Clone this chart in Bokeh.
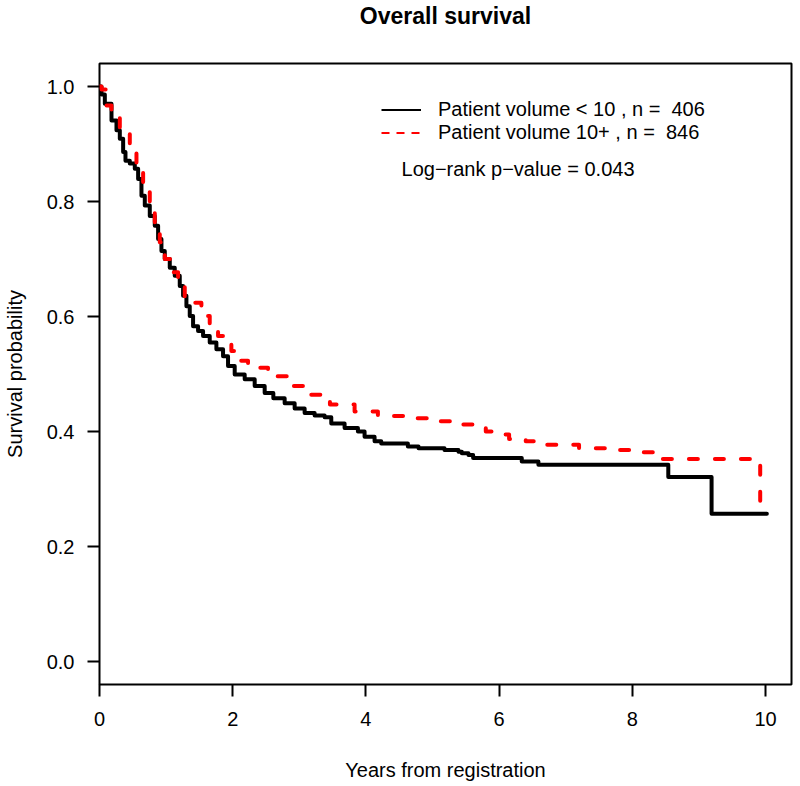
from bokeh.plotting import figure
from bokeh.models import (ColumnDataSource, Range1d, FixedTicker, Legend, LegendItem,
                          Label, PrintfTickFormatter, Title)
from bokeh.embed import file_html
from bokeh.resources import INLINE

# ---------------- data ----------------
title_text = "Overall survival"
x_label = "Years from registration"
y_label = "Survival probability"
legend_labels = ["Patient volume < 10 , n =  406", "Patient volume 10+ , n =  846"]
pvalue_text = "Log\u2212rank p\u2212value =  0.043"

x_ticks = [0, 2, 4, 6, 8, 10]
y_ticks = [0.0, 0.2, 0.4, 0.6, 0.8, 1.0]

low_t = [0.0, 0.03, 0.08, 0.18, 0.255, 0.305, 0.355, 0.39, 0.455, 0.53, 0.58, 0.63, 0.68,
         0.755, 0.83, 0.88, 0.93, 0.98, 1.055, 1.13, 1.205, 1.255, 1.305, 1.355, 1.405,
         1.48, 1.555, 1.655, 1.755, 1.855, 1.93, 2.03, 2.18, 2.33, 2.48, 2.61, 2.78, 2.93,
         3.08, 3.23, 3.38, 3.48, 3.68, 3.88, 3.98, 4.13, 4.23, 4.63, 4.79, 4.88, 5.18,
         5.39, 5.44, 5.54, 5.61, 6.34, 6.59, 8.54, 9.19, 10.02]
low_s = [1.0, 0.986, 0.970, 0.941, 0.924, 0.909, 0.886, 0.871, 0.866, 0.857, 0.839, 0.810,
         0.793, 0.775, 0.758, 0.735, 0.714, 0.700, 0.685, 0.671, 0.653, 0.636, 0.618,
         0.601, 0.583, 0.575, 0.566, 0.555, 0.543, 0.531, 0.514, 0.499, 0.491, 0.479,
         0.467, 0.458, 0.449, 0.440, 0.432, 0.428, 0.425, 0.414, 0.406, 0.400, 0.391,
         0.383, 0.379, 0.374, 0.371, 0.371, 0.368, 0.365, 0.362, 0.359, 0.354, 0.348,
         0.342, 0.321, 0.257, 0.257]

high_t = [0.0, 0.03, 0.105, 0.18, 0.305, 0.38, 0.455, 0.555, 0.655, 0.755, 0.83, 0.905,
          0.98, 1.08, 1.18, 1.28, 1.38, 1.53, 1.655, 1.78, 1.98, 2.08, 2.23, 2.53, 2.83,
          3.13, 3.46, 3.83, 4.18, 4.64, 4.98, 5.39, 5.70, 5.80, 6.00, 6.15, 6.40, 6.55,
          7.20, 7.80, 8.00, 8.43, 9.92, 10.02]
high_s = [1.0, 0.995, 0.967, 0.947, 0.927, 0.918, 0.886, 0.854, 0.816, 0.793, 0.761,
          0.729, 0.700, 0.677, 0.653, 0.633, 0.624, 0.601, 0.578, 0.566, 0.540, 0.523,
          0.511, 0.496, 0.479, 0.464, 0.447, 0.435, 0.427, 0.423, 0.418, 0.412, 0.406,
          0.400, 0.395, 0.387, 0.383, 0.377, 0.371, 0.368, 0.364, 0.352, 0.264, 0.264]

FONT = "Liberation Sans"

p = figure(frame_width=692, frame_height=621,
           min_border_left=98, min_border_right=10, min_border_top=63, min_border_bottom=102,
           x_range=Range1d(0, 10.39), y_range=Range1d(-0.04, 1.04),
           output_backend="svg", toolbar_location=None,
           background_fill_color="white", border_fill_color="white")

# spacer between the frame and the title (closest to the frame)
p.add_layout(Title(text=" ", text_font_size="1px", standoff=32), "above")

p.title.text = title_text
p.title.align = "center"
p.title.text_font = FONT
p.title.text_font_size = "23px"
p.title.text_font_style = "bold"
p.title.text_color = "black"
p.title.standoff = 0

p.grid.visible = False
p.outline_line_color = "black"
p.outline_line_width = 2

for ax in (p.xaxis[0], p.yaxis[0]):
    ax.axis_line_color = None
    ax.major_tick_in = 0
    ax.major_tick_out = 12
    ax.major_tick_line_width = 2
    ax.major_tick_line_color = "black"
    ax.minor_tick_line_color = None
    ax.major_label_text_font = FONT
    ax.major_label_text_font_size = "20px"
    ax.major_label_text_color = "black"
    ax.axis_label_text_font = FONT
    ax.axis_label_text_font_size = "20px"
    ax.axis_label_text_font_style = "normal"
    ax.axis_label_text_color = "black"

p.xaxis[0].major_label_standoff = 15
p.yaxis[0].major_label_standoff = 13
p.xaxis[0].axis_label = x_label
p.yaxis[0].axis_label = y_label
p.xaxis[0].axis_label_standoff = 30
p.yaxis[0].axis_label_standoff = 18

p.xaxis[0].ticker = FixedTicker(ticks=x_ticks)
p.yaxis[0].ticker = FixedTicker(ticks=y_ticks)
p.yaxis[0].formatter = PrintfTickFormatter(format="%.1f")

src_low = ColumnDataSource(dict(t=low_t, s=low_s))
src_high = ColumnDataSource(dict(t=high_t, s=high_s))

p.step(x="t", y="s", source=src_low, mode="after", line_color="black", line_width=4,
       line_join="round", line_cap="round")
p.step(x="t", y="s", source=src_high, mode="after", line_color="#FF0000", line_width=4,
       line_dash="9 17", line_join="round", line_cap="round")

# hidden thin copies, used only for the legend glyphs
leg_low = p.step(x="t", y="s", source=src_low, mode="after", line_color="black",
                 line_width=2, visible=False)
leg_high = p.step(x="t", y="s", source=src_high, mode="after", line_color="#FF0000",
                  line_width=2, line_dash="8 7", visible=False)

legend = Legend(items=[LegendItem(label=legend_labels[0], renderers=[leg_low]),
                       LegendItem(label=legend_labels[1], renderers=[leg_high])],
                location=(282, 540), orientation="vertical",
                background_fill_alpha=0, border_line_color=None,
                inactive_fill_alpha=0,
                padding=0, margin=0, spacing=0,
                glyph_width=40, glyph_height=23, label_height=23,
                label_standoff=17,
                label_text_font=FONT, label_text_font_size="20px",
                label_text_color="black")
p.add_layout(legend, "center")

p.add_layout(Label(x=4.535, y=0.857, text=pvalue_text, text_align="left",
                   text_baseline="middle", text_font=FONT,
                   text_font_size="20px", text_color="black"))

open("out.html", "w").write(file_html(p, INLINE))
